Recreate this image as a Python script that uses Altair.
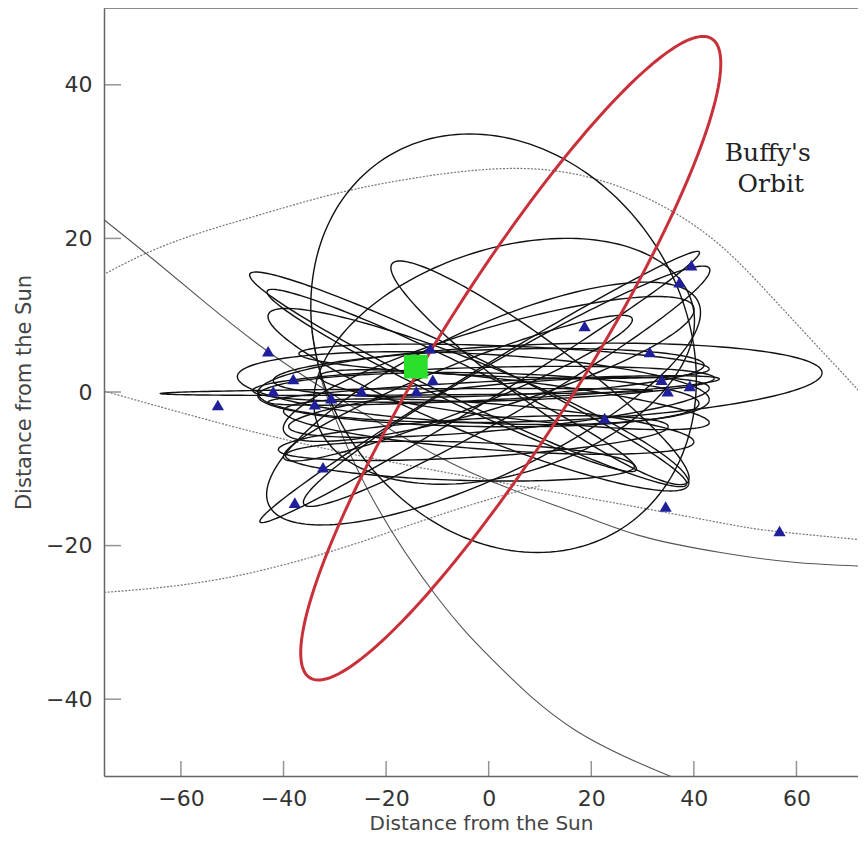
import altair as alt
import pandas as pd

# ---------------- data (data units) ----------------
x_ticks = [-60, -40, -20, 0, 20, 40, 60]
y_ticks = [-40, -20, 0, 20, 40]

# black orbits: centre (cx, cy) and two conjugate semi-diameters (ax, ay), (bx, by)
orb_cx = [2.9, -1.0, 3.0, -1.0, 1.0, -2.0, 0.0, 2.0, -3.0, 10.0, -16.0, 0.0, -3.0, 3.0, 5.0,
          -4.0, -7.2, 10.0, -2.0, -1.75, 3.5, -6.0, 0.0, -5.6]
orb_cy = [6.35, -1.5, 4.0, 1.0, 0.2, -1.0, 2.5, -2.0, 0.5, 1.2, 0.0, -4.5, -6.0, 4.0, -1.0,
          1.65, 1.5, 2.5, -1.0, 0.65, 0.75, 0.5, 3.0, -9.0]
orb_ax = [37.0, 42.0, 37.0, 45.0, 44.0, 43.0, 42.0, 41.0, 46.0, 55.0, 48.0, 40.0, 38.0, 40.0, 38.0,
          42.6, 36.0, 29.0, 41.0, 42.85, 39.6, 34.0, 40.0, 34.0]
orb_ay = [0.0, 13.0, 4.0, 0.8, 1.5, -0.5, 1.0, 2.5, -1.5, 1.3, 0.2, -2.0, 1.5, -1.0, -3.0,
          -13.65, -11.6, -14.0, -11.0, 17.55, 15.25, 9.0, 8.0, -0.7]
orb_bx = [-6.6, -5.0, 3.0, 0.0, 0.0, 0.0, 0.0, 0.0, 0.0, 0.0, 0.0, 0.0, 0.0, 0.0, 0.0,
          1.0, 1.0, 2.0, 1.5, -1.0, -1.5, -1.0, -2.0, 0.0]
orb_by = [27.25, 9.0, 15.5, 2.2, 1.2, 3.5, 3.0, 3.0, 4.5, 5.0, 0.4, 3.0, 2.5, 2.0, 2.5,
          3.0, 2.5, 4.0, 4.5, 2.0, 3.5, 3.0, 5.0, 2.5]

# Buffy's orbit (red)
buffy_cx = [4.3]
buffy_cy = [4.4]
buffy_ax = [39.2]
buffy_ay = [41.6]
buffy_bx = [11.85]
buffy_by = [-5.03]

# large orbits, only partly inside the frame
g1_x = [-77, -66, -55, -45, -30, -15, 0, 15, 30, 43.7, 55, 65, 73, 77]
g1_y = [14.6, 18.3, 21.0, 23.0, 25.8, 27.8, 29.0, 28.6, 25.5, 19.9, 12.5, 5.3, -0.5, -4.0]
g4_x = [-77, -52.7, -29.5, 0, 25, 45, 56.7, 77]
g4_y = [0.5, -4.0, -7.7, -11.5, -14.5, -17.0, -18.2, -19.5]
g5_x = [-77, -52.7, -29.5, -14, 0, 10]
g5_y = [-26.2, -24.4, -20.5, -17.0, -14.0, -12.2]
g2_x = [-77, -66, -55, -43.1, -30, -15, 0, 16.8, 30, 45.2, 60, 77]
g2_y = [23.5, 17.6, 11.5, 5.3, -0.5, -6.5, -11.5, -15.7, -18.8, -20.9, -22.2, -22.8]
g3_x = [-34.5, -32.6, -30.3, -23.3, -10.2, 1.4, 16.8, 35.3, 42]
g3_y = [8.0, 1.6, -2.7, -13.1, -26.6, -35.3, -44.0, -50.0, -51.8]

# objects (blue triangles)
kbo_x = [-52.8, -43.0, -42.0, -38.1, -33.9, -30.7, -24.8, -32.3, -37.8, -14.1, -11.4, -10.9,
         18.7, 22.6, 31.4, 33.7, 34.9, 39.2, 37.2, 39.5, 34.5, 56.7]
kbo_y = [-1.7, 5.3, 0.1, 1.7, -1.6, -0.8, 0.1, -9.8, -14.4, 0.1, 5.7, 1.6,
         8.6, -3.4, 5.2, 1.6, 0.1, 0.8, 14.3, 16.5, -14.9, -18.1]

# green square
sq_x = [-14.2]
sq_y = [3.3]

label_text = ["Buffy's", "Orbit"]
label_x = [54.4, 55.0]
label_y = [30.1, 26.0]

# ---------------- tables ----------------
orbits = pd.DataFrame({"id": range(len(orb_cx)), "cx": orb_cx, "cy": orb_cy,
                       "ax": orb_ax, "ay": orb_ay, "bx": orb_bx, "by": orb_by})
buffy = pd.DataFrame({"id": [0], "cx": buffy_cx, "cy": buffy_cy,
                      "ax": buffy_ax, "ay": buffy_ay, "bx": buffy_bx, "by": buffy_by})


def curve_table(curves):
    rows = []
    for name, xs, ys in curves:
        for i, (xv, yv) in enumerate(zip(xs, ys)):
            rows.append({"curve": name, "i": i, "x": xv, "y": yv})
    return pd.DataFrame(rows)


dotted = curve_table([("g1", g1_x, g1_y), ("g4", g4_x, g4_y), ("g5", g5_x, g5_y)])
solid_grey = curve_table([("g2", g2_x, g2_y), ("g3", g3_x, g3_y)])
kbos = pd.DataFrame({"x": kbo_x, "y": kbo_y})
square = pd.DataFrame({"x": sq_x, "y": sq_y})
labels = pd.DataFrame({"x": label_x, "y": label_y, "t": label_text})
xt = pd.DataFrame({"v": x_ticks})
yt = pd.DataFrame({"v": y_ticks})

# ---------------- scales / axes ----------------
FONT = "DejaVu Sans"
FRAME = "#666"
xscale = alt.Scale(domain=[-75, 72], nice=False, zero=False)
yscale = alt.Scale(domain=[-50, 50], nice=False, zero=False)
xaxis = alt.Axis(values=x_ticks, ticks=False, tickSize=0, domain=True, domainColor=FRAME,
                 domainWidth=1.5, grid=False,
                 labelFont=FONT, labelFontSize=22, labelColor="#333", labelPadding=12,
                 title="Distance from the Sun", titleFont=FONT, titleFontSize=20,
                 titleFontWeight="normal", titleColor="#444", titlePadding=4)
yaxis = alt.Axis(values=y_ticks, ticks=False, tickSize=0, domain=True, domainColor=FRAME,
                 domainWidth=1.5, grid=False,
                 labelFont=FONT, labelFontSize=22, labelColor="#333", labelPadding=12,
                 title="Distance from the Sun", titleFont=FONT, titleFontSize=21,
                 titleFontWeight="normal", titleColor="#444", titlePadding=11)


def X(field):
    return alt.X(field, type="quantitative", scale=xscale, axis=xaxis)


def Y(field):
    return alt.Y(field, type="quantitative", scale=yscale, axis=yaxis)


def ellipse_layer(df, color, width):
    return alt.Chart(df).transform_calculate(
        t="sequence(0, 362, 2)"
    ).transform_flatten(["t"]).transform_calculate(
        px="datum.cx + datum.ax*cos(datum.t*PI/180) + datum.bx*sin(datum.t*PI/180)",
        py="datum.cy + datum.ay*cos(datum.t*PI/180) + datum.by*sin(datum.t*PI/180)",
    ).mark_line(color=color, strokeWidth=width, clip=True).encode(
        x=X("px"), y=Y("py"), detail="id:N", order="t:Q"
    )


dotted_layer = alt.Chart(dotted).mark_line(
    color="#777", strokeWidth=1.2, strokeDash=[2, 1.5], interpolate="natural", clip=True
).encode(x=X("x"), y=Y("y"), detail="curve:N", order="i:Q")

grey_layer = alt.Chart(solid_grey).mark_line(
    color="#555", strokeWidth=1.1, interpolate="natural", clip=True
).encode(x=X("x"), y=Y("y"), detail="curve:N", order="i:Q")

black_layer = ellipse_layer(orbits, "#111", 1.4)
red_layer = ellipse_layer(buffy, "#c8303a", 3)

kbo_layer = alt.Chart(kbos).mark_point(
    shape="triangle-up", filled=True, size=150, color="#1f1f9c", opacity=1
).encode(x=X("x"), y=Y("y"))

square_layer = alt.Chart(square).mark_point(
    shape="square", filled=True, size=560, color="#2be02b", opacity=1
).encode(x=X("x"), y=Y("y"))

text_layer = alt.Chart(labels).mark_text(
    font="DejaVu Serif", fontSize=25, color="#222", align="center", baseline="alphabetic"
).encode(x=X("x"), y=Y("y"), text="t:N")

xtick_layer = alt.Chart(xt).mark_tick(
    orient="vertical", size=15, thickness=1.5, color=FRAME, yOffset=-7.5
).encode(x=X("v"), y=alt.Y(datum=-50, scale=yscale, axis=yaxis))

ytick_layer = alt.Chart(yt).mark_tick(
    orient="horizontal", size=17, thickness=1.5, color=FRAME, xOffset=8.5
).encode(y=Y("v"), x=alt.X(datum=-75, scale=xscale, axis=xaxis))

# top edge of the frame (the right edge is cut off in the reference)
top_layer = alt.Chart(pd.DataFrame({"v": [50]})).mark_rule(
    color=FRAME, strokeWidth=1.5
).encode(y=Y("v"))

chart = alt.layer(
    dotted_layer, grey_layer, black_layer, red_layer, kbo_layer, square_layer,
    text_layer, xtick_layer, ytick_layer, top_layer
).properties(
    width=754, height=768,
    autosize=alt.AutoSizeParams(type="none"),
    padding={"left": 96, "top": 0, "right": 0, "bottom": 59},
).configure_view(stroke="transparent", strokeWidth=0)

chart.save("out.html", embed_options={"renderer": "svg", "actions": False})
